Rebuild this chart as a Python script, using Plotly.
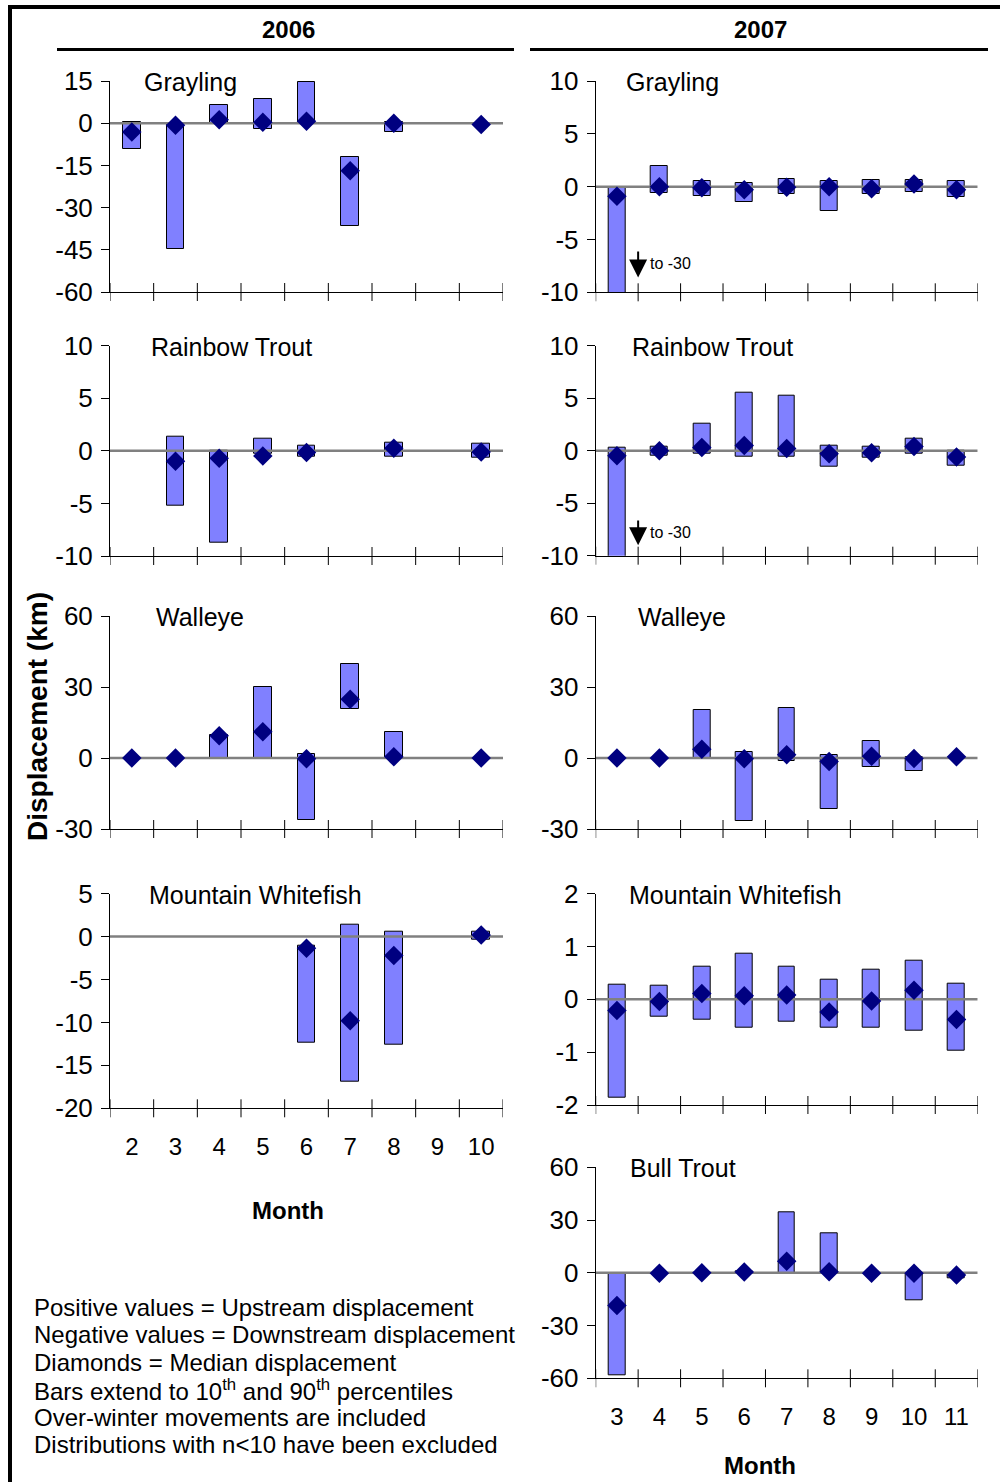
import plotly.graph_objects as go

# ---------------- data ----------------
months_2006 = [2, 3, 4, 5, 6, 7, 8, 9, 10]
months_2007 = [3, 4, 5, 6, 7, 8, 9, 10, 11]

species = ["Grayling", "Rainbow Trout", "Walleye", "Mountain Whitefish", "Bull Trout"]

# 2006 (months 2..10)
gr06_p90 = [0.5, 0, 6.4, 8.5, 14.5, -12.1, 0.5, None, None]
gr06_p10 = [-9.3, -44.8, 0, -1.9, 0, -36.7, -3.0, None, None]
gr06_med = [-3.1, -0.7, 1.2, 0.3, 0.7, -16.9, 0, None, -0.5]

rb06_p90 = [None, 1.3, 0, 1.14, 0.5, None, 0.8, None, 0.7]
rb06_p10 = [None, -5.24, -8.7, -0.3, -0.55, None, -0.55, None, -0.65]
rb06_med = [None, -1.0, -0.7, -0.48, -0.15, None, 0.25, None, -0.1]

wa06_p90 = [None, None, 9.9, 30.2, 1.7, 39.6, 11.1, None, None]
wa06_p10 = [None, None, 0, 0, -26.0, 20.7, 0, None, None]
wa06_med = [0, 0, 9.4, 11.1, -0.3, 24.8, 0.5, None, 0]

mw06_p90 = [None, None, None, None, -1.0, 1.36, 0.54, None, 0.6]
mw06_p10 = [None, None, None, None, -12.4, -16.9, -12.6, None, -0.3]
mw06_med = [None, None, None, None, -1.36, -9.8, -2.2, None, 0.2]

# 2007 (months 3..11)
gr07_p90 = [0, 2.0, 0.5, 0.35, 0.7, 0.57, 0.6, 0.6, 0.57]
gr07_p10 = [-30, -0.6, -0.9, -1.45, -0.7, -2.3, -0.65, -0.5, -1.0]
gr07_med = [-0.92, 0, -0.1, -0.3, -0.05, 0, -0.2, 0.25, -0.3]

rb07_p90 = [0.25, 0.4, 2.6, 5.5, 5.2, 0.5, 0.4, 1.1, 0]
rb07_p10 = [-30, -0.5, -0.3, -0.6, -0.6, -1.56, -0.7, -0.3, -1.43]
rb07_med = [-0.48, 0, 0.3, 0.5, 0.2, -0.3, -0.2, 0.4, -0.6]

wa07_p90 = [None, None, 20.1, 2.5, 21.1, 1.3, 7.3, 0.5, None]
wa07_p10 = [None, None, 0, -26.5, -1.4, -21.7, -3.7, -5.5, None]
wa07_med = [0, 0, 3.7, -0.3, 1.4, -1.5, 0.7, -0.2, 0.5]

mw07_p90 = [0.28, 0.26, 0.62, 0.86, 0.61, 0.38, 0.57, 0.73, 0.30]
mw07_p10 = [-1.87, -0.33, -0.38, -0.54, -0.42, -0.54, -0.54, -0.6, -0.98]
mw07_med = [-0.21, -0.04, 0.11, 0.07, 0.08, -0.24, -0.03, 0.17, -0.38]

bt07_p90 = [0, None, None, 1.0, 34.6, 22.4, None, 0, 0]
bt07_p10 = [-58.3, None, None, 0, 0, 0, None, -15.6, -3.0]
bt07_med = [-18.6, -0.2, 0, 0.5, 6.6, 0.6, -0.2, -0.2, -1.3]

# y-axis tick values
yt_gr06 = [-60, -45, -30, -15, 0, 15]
yt_rb = [-10, -5, 0, 5, 10]
yt_wa = [-30, 0, 30, 60]
yt_mw06 = [-20, -15, -10, -5, 0, 5]
yt_mw07 = [-2, -1, 0, 1, 2]
yt_bt = [-60, -30, 0, 30, 60]

years = ["2006", "2007"]
notes = [
    "Positive values = Upstream displacement",
    "Negative values = Downstream displacement",
    "Diamonds = Median displacement",
    "Bars extend to 10<sup>th</sup> and 90<sup>th</sup> percentiles",
    "Over-winter movements are included",
    "Distributions with n<10 have been excluded",
]
arrow_text = "to -30"

# ---------------- layout geometry (pixels) ----------------
W, H = 1000, 1482
FONT = "Liberation Sans, Arial, sans-serif"
BAR_FILL = "#8080FF"
DIAMOND = "#000080"
ZERO = "#808080"

def px_x(v):
    return v / W

def px_y(v):
    return 1 - v / H

LEFT_X = (110, 503)
RIGHT_X = (595.7, 977.7)

panels = [
    # (name, months, p10, p90, med, yticks, xpx, ypx(top,bottom), title_x, show_xlabels)
    ("Grayling", months_2006, gr06_p10, gr06_p90, gr06_med, yt_gr06, LEFT_X, (81, 292), 142, False),
    ("Rainbow Trout", months_2006, rb06_p10, rb06_p90, rb06_med, yt_rb, LEFT_X, (345.7, 556), 149, False),
    ("Walleye", months_2006, wa06_p10, wa06_p90, wa06_med, yt_wa, LEFT_X, (616, 829), 154, False),
    ("Mountain Whitefish", months_2006, mw06_p10, mw06_p90, mw06_med, yt_mw06, LEFT_X, (893.7, 1108.3), 147, True),
    ("Grayling", months_2007, gr07_p10, gr07_p90, gr07_med, yt_rb, RIGHT_X, (81, 292.3), 624, False),
    ("Rainbow Trout", months_2007, rb07_p10, rb07_p90, rb07_med, yt_rb, RIGHT_X, (345.7, 555.7), 630, False),
    ("Walleye", months_2007, wa07_p10, wa07_p90, wa07_med, yt_wa, RIGHT_X, (616, 829), 636, False),
    ("Mountain Whitefish", months_2007, mw07_p10, mw07_p90, mw07_med, yt_mw07, RIGHT_X, (893.7, 1105), 627, False),
    ("Bull Trout", months_2007, bt07_p10, bt07_p90, bt07_med, yt_bt, RIGHT_X, (1167.3, 1378.3), 628, True),
]

fig = go.Figure()
layout = dict(
    width=W, height=H,
    margin=dict(l=0, r=0, t=0, b=0, autoexpand=False),
    paper_bgcolor="white", plot_bgcolor="white",
    showlegend=False,
    font=dict(family=FONT, color="black", size=24),
)
shapes = []
annotations = []

for i, (name, months, p10, p90, med, yticks, xpx, ypx, tx, showx) in enumerate(panels, start=1):
    xa = "x" if i == 1 else f"x{i}"
    ya = "y" if i == 1 else f"y{i}"
    xr = [months[0] - 0.5, months[-1] + 0.5]
    heights = [None if (a is None or b is None) else b - a for a, b in zip(p10, p90)]

    fig.add_trace(go.Bar(
        x=months, y=heights, base=p10, width=0.4,
        marker=dict(color=BAR_FILL, line=dict(color="black", width=1)),
        xaxis=xa, yaxis=ya, hoverinfo="skip",
    ))
    fig.add_trace(go.Scatter(
        x=xr, y=[0, 0], mode="lines",
        line=dict(color=ZERO, width=2.5),
        xaxis=xa, yaxis=ya, hoverinfo="skip",
    ))
    fig.add_trace(go.Scatter(
        x=months, y=med, mode="markers",
        marker=dict(symbol="diamond", size=15, color=DIAMOND, line=dict(width=0)),
        xaxis=xa, yaxis=ya, hoverinfo="skip",
    ))

    key_x = "xaxis" if i == 1 else f"xaxis{i}"
    key_y = "yaxis" if i == 1 else f"yaxis{i}"
    layout[key_x] = dict(
        domain=[px_x(xpx[0]), px_x(xpx[1])],
        anchor=ya, range=xr, automargin=False,
        showline=True, linecolor="black", linewidth=1,
        ticks="", showgrid=False, zeroline=False,
        tickmode="array", tickvals=months, ticktext=[str(m) for m in months],
        showticklabels=showx, ticklabelstandoff=17,
        tickfont=dict(size=24, family=FONT, color="black"),
        fixedrange=True,
    )
    layout[key_y] = dict(
        domain=[px_y(ypx[1]), px_y(ypx[0])],
        anchor=xa, range=[yticks[0], yticks[-1]], automargin=False,
        showline=True, linecolor="black", linewidth=1,
        ticks="outside", ticklen=8, tickcolor="black", tickwidth=1,
        tickmode="array", tickvals=yticks, ticktext=[str(v) for v in yticks],
        showgrid=False, zeroline=False,
        tickfont=dict(size=26, family=FONT, color="black"),
        ticklabelstandoff=3,
        fixedrange=True,
    )

    # crossing tick marks at category boundaries on the x axis
    hpx = ypx[1] - ypx[0]
    bounds = [m - 0.5 for m in months] + [months[-1] + 0.5]
    for b in bounds:
        shapes.append(dict(
            type="line", xref=xa, yref=f"{ya} domain",
            x0=b, x1=b, y0=-9 / hpx, y1=9 / hpx,
            line=dict(color="black", width=1),
        ))

    # panel title
    annotations.append(dict(
        text=name, xref="paper", yref="paper",
        x=px_x(tx), y=px_y(ypx[0] + 1), xanchor="left", yanchor="middle",
        showarrow=False, font=dict(size=25, family=FONT, color="black"),
    ))

# year headers and underlines
for yr, cx, (lx0, lx1) in zip(years, [288, 760], [(57, 514), (530, 988)]):
    annotations.append(dict(
        text=f"<b>{yr}</b>", xref="paper", yref="paper",
        x=px_x(cx), y=px_y(30), xanchor="center", yanchor="middle",
        showarrow=False, font=dict(size=24, family=FONT, color="black"),
    ))
    shapes.append(dict(
        type="line", xref="paper", yref="paper",
        x0=px_x(lx0), x1=px_x(lx1), y0=px_y(49.5), y1=px_y(49.5),
        line=dict(color="black", width=3),
    ))

# frame (top and left)
shapes.append(dict(type="line", xref="paper", yref="paper",
                   x0=px_x(8), x1=1, y0=px_y(7), y1=px_y(7),
                   line=dict(color="black", width=4)))
shapes.append(dict(type="line", xref="paper", yref="paper",
                   x0=px_x(10), x1=px_x(10), y0=px_y(5), y1=0,
                   line=dict(color="black", width=4)))

# Month axis titles
for cx, cy in [(288, 1210), (760, 1465)]:
    annotations.append(dict(
        text="<b>Month</b>", xref="paper", yref="paper",
        x=px_x(cx), y=px_y(cy), xanchor="center", yanchor="middle",
        showarrow=False, font=dict(size=24, family=FONT, color="black"),
    ))

# y axis title
annotations.append(dict(
    text="<b>Displacement (km)</b>", xref="paper", yref="paper",
    x=px_x(37), y=px_y(717), xanchor="center", yanchor="middle", textangle=-90,
    showarrow=False, font=dict(size=28, family=FONT, color="black"),
))

# notes
for k, line in enumerate(notes):
    annotations.append(dict(
        text=line, xref="paper", yref="paper",
        x=px_x(32), y=px_y(1307.5 + 27.4 * k), xanchor="left", yanchor="middle",
        showarrow=False, font=dict(size=24, family=FONT, color="black"),
    ))

# "to -30" arrows (Grayling 2007 -> panel 5, Rainbow 2007 -> panel 6)
for xa, ya, tip, tail, ty in [("x5", "y5", -8.6, -6.0, -7.3), ("x6", "y6", -9.0, -6.5, -7.8)]:
    annotations.append(dict(
        x=3.5, y=tip, ax=3.5, ay=tail, xref=xa, yref=ya, axref=xa, ayref=ya,
        text="", showarrow=True, arrowhead=2, arrowsize=1.8, arrowwidth=2,
        arrowcolor="black",
    ))
    annotations.append(dict(
        x=3.5, y=ty, xref=xa, yref=ya, xshift=10, xanchor="left", yanchor="middle",
        text=arrow_text, showarrow=False, font=dict(size=16, family=FONT, color="black"),
    ))

layout["shapes"] = shapes
layout["annotations"] = annotations
fig.update_layout(**layout)
fig.update_layout(bargap=0)

fig.write_html("out.html", config={"displayModeBar": False})
